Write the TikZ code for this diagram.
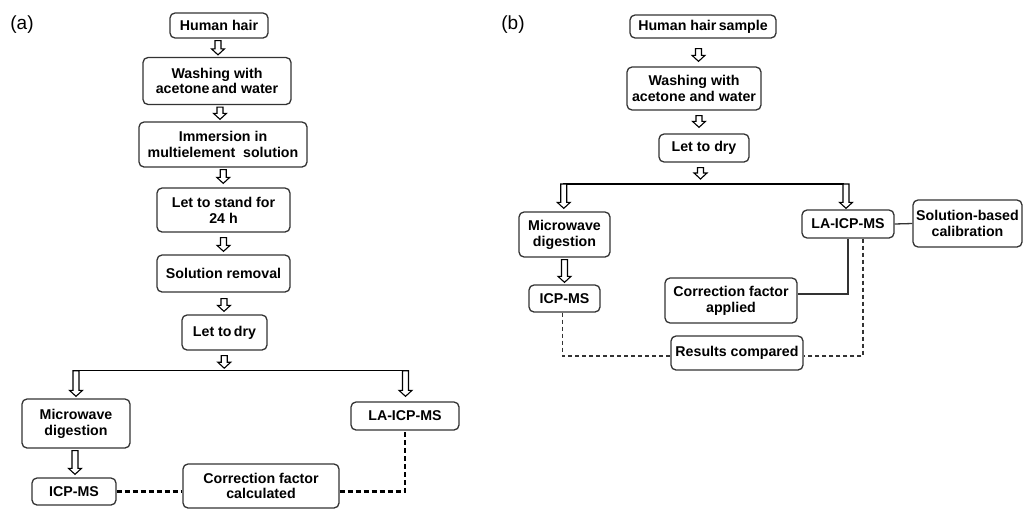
\documentclass[tikz,border=0pt]{standalone}
\usepackage{fontspec}
\setmainfont{Liberation Sans}
\usetikzlibrary{calc}
\definecolor{edge}{HTML}{333333}
\tikzset{
  box/.style={draw=edge, line width=1.3pt, rounded corners=5pt, align=center, inner sep=0pt,
    font=\bfseries\fontsize{14.2}{15.8}\selectfont, text=black},
  harrowline/.style={draw=black, line width=1.1pt, fill=white, line join=miter},
  thickdash/.style={draw=black, line width=2.4pt, dash pattern=on 5pt off 3pt},
  thindash/.style={draw=edge, line width=1.3pt, dash pattern=on 4pt off 3pt},
  plainline/.style={draw=edge, line width=1.3pt},
  panel/.style={font=\fontsize{19}{21}\selectfont, inner sep=0pt}
}
% hollow block arrow from point #1 (x taken as midpoint) down to point #2
\newcommand{\harrow}[2]{%
  \path[harrowline] let \p1=(#1), \p2=(#2), \n1={(\x1+\x2)/2} in
    (\n1-3pt,\y1) -- (\n1-3pt,\y2+6pt) -- (\n1-6.5pt,\y2+6pt) -- (\n1,\y2) --
    (\n1+6.5pt,\y2+6pt) -- (\n1+3pt,\y2+6pt) -- (\n1+3pt,\y1) -- cycle;}
\begin{document}
\begin{tikzpicture}[x=1pt,y=-1pt]
\useasboundingbox (0,0) rectangle (1032,509);
% ---------- (a) ----------
\node[panel] (la) at (22,25) {(a)};
\node[box, minimum width=98pt, minimum height=25pt] (ha) at (219,25.5) {Human hair};
\node[box, minimum width=148pt, minimum height=47pt] (wa) at (217,81) {Washing with\\acetone\,and water};
\node[box, minimum width=168pt, minimum height=45pt] (ima) at (223,144.5) {Immersion in\\multielement\ \ solution};
\node[box, minimum width=133pt, minimum height=44pt] (sta) at (223.5,210) {Let to stand for\\24 h};
\node[box, minimum width=133pt, minimum height=37pt] (sra) at (223.5,273.5) {Solution removal};
\node[box, minimum width=85pt, minimum height=35pt] (dra) at (224.5,332.5) {Let to\,dry};
\node[box, minimum width=108pt, minimum height=49pt] (mwa) at (76,423.5) {Microwave\\digestion};
\node[box, minimum width=108pt, minimum height=28pt] (laa) at (405,416) {LA-ICP-MS};
\node[box, minimum width=84pt, minimum height=27pt] (icpa) at (74,491.5) {ICP-MS};
\node[box, minimum width=156pt, minimum height=44pt] (cfa) at (261,486) {Correction factor\\calculated};
\coordinate (sLa) at (76,370.7);
\coordinate (sRa) at (406,370.7);
\coordinate (sCa) at (224,370.7);
\draw[plainline, draw=black, line width=1.1pt] (sLa) -- (sRa);
\harrow{[yshift=-2pt]ha.south}{[yshift=2pt]wa.north}
\harrow{[yshift=-2pt]wa.south}{[yshift=2pt]ima.north}
\harrow{[yshift=-2pt]ima.south}{[yshift=4pt]sta.north}
\harrow{[yshift=-5pt]sta.south}{[yshift=3pt]sra.north}
\harrow{[yshift=-6pt]sra.south}{[yshift=3pt]dra.north}
\harrow{[yshift=-5pt]dra.south}{[yshift=2.5pt]sCa}
\harrow{sLa}{[yshift=2pt]mwa.north}
\harrow{sRa}{[yshift=5pt]laa.north}
\harrow{[yshift=-2pt]mwa.south}{[yshift=3pt]icpa.north}
\draw[thickdash] (icpa.east) -- (icpa.east -| cfa.west);
\draw[thickdash] (cfa.east |- icpa.east) -| (laa.south);
% ---------- (b) ----------
\node[panel] (lb) at (513,25) {(b)};
\node[box, minimum width=146pt, minimum height=23pt] (hb) at (703,26.5) {Human hair\,sample};
\node[box, minimum width=134pt, minimum height=43pt] (wb) at (694,88.5) {Washing with\\acetone and water};
\node[box, minimum width=90pt, minimum height=28pt] (drb) at (704,148) {Let to dry};
\node[box, minimum width=91pt, minimum height=45pt] (mwb) at (564.5,234.5) {Microwave\\digestion};
\node[box, minimum width=92pt, minimum height=28pt] (lab) at (848,224) {LA-ICP-MS};
\node[box, minimum width=109pt, minimum height=47pt] (sbb) at (967.5,223.5) {Solution-based\\calibration};
\node[box, minimum width=71pt, minimum height=27pt] (icpb) at (564.5,298.5) {ICP-MS};
\node[box, minimum width=132pt, minimum height=45pt] (cab) at (731,300.5) {Correction factor\\applied};
\node[box, minimum width=132pt, minimum height=34pt] (rcb) at (737,353) {Results compared};
\coordinate (sLb) at (563,184);
\coordinate (sRb) at (844,184);
\coordinate (sCb) at (697,184);
\draw[plainline, draw=black, line width=1.1pt] (sLb) -- (sRb);
\harrow{[yshift=-10pt]hb.south}{[yshift=5pt]wb.north}
\harrow{[yshift=-5pt]wb.south}{[yshift=6pt]drb.north}
\harrow{[yshift=-5pt]drb.south}{[yshift=5pt]sCb}
\harrow{sLb}{[yshift=3pt]mwb.north}
\harrow{sRb}{[yshift=1pt]lab.north}
\harrow{[yshift=-2pt]mwb.south}{[yshift=2pt]icpb.north}
\draw[plainline] (lab.east) -- (sbb.west);
\draw[plainline] (lab.south) |- ([yshift=6.5pt]cab.east);
\draw[thindash] ([xshift=15pt]lab.south) |- ([yshift=-3pt]rcb.east);
\draw[thindash] ([xshift=-2pt]icpb.south) |- ([yshift=-3pt]rcb.west);
\end{tikzpicture}
\end{document}
